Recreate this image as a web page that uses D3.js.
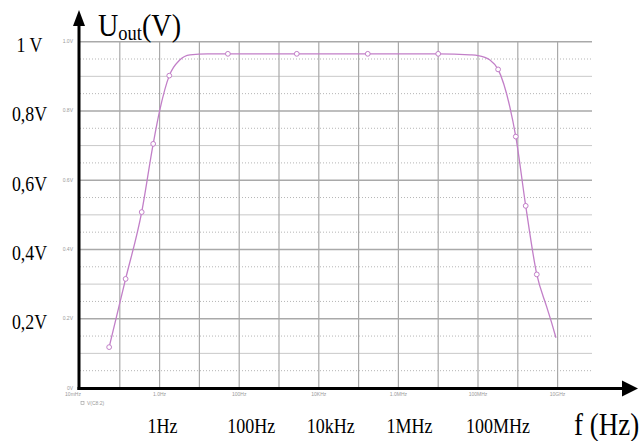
<!DOCTYPE html>
<html>
<head>
<meta charset="utf-8">
<script src="https://cdn.jsdelivr.net/npm/d3@7"></script>
<style>
  body { margin: 0; background: #fff; }
</style>
</head>
<body>
<div id="myChart"></div>
<script>
// curve: frequency (Hz) and output voltage (V)
const freqHz = [0.054, 0.14, 0.355, 0.69, 1.0, 1.75, 3.2, 5.8, 16, 52, 2.8e3, 1.7e5, 1.0e7,
                6.3e7, 1.0e8, 2.0e8, 3.2e8, 6.3e8, 8.9e8, 1.58e9, 3.0e9, 5.3e9, 7.1e9, 9.1e9];
const volts = [0.118, 0.315, 0.508, 0.705, 0.800, 0.902, 0.947, 0.962, 0.965, 0.965, 0.965, 0.965, 0.965,
               0.962, 0.960, 0.947, 0.920, 0.812, 0.726, 0.526, 0.328, 0.235, 0.188, 0.145];

// trace markers (little circles along the curve)
const markerFreqHz = [0.054, 0.14, 0.355, 0.69, 1.75, 52, 2.8e3, 1.7e5, 1.0e7, 3.2e8, 8.9e8, 1.58e9, 3.0e9];
const markerVolts = [0.118, 0.315, 0.508, 0.705, 0.902, 0.965, 0.965, 0.965, 0.965, 0.920, 0.726, 0.526, 0.328];

// small simulator tick labels
const simXTicks = [1e-2, 1, 1e2, 1e4, 1e6, 1e8, 1e10];
const simXLabels = ["10mHz", "1.0Hz", "100Hz", "10KHz", "1.0MHz", "100MHz", "10GHz"];
const simYTicks = [0, 0.2, 0.4, 0.6, 0.8, 1.0];
const simYLabels = ["0V", "0.2V", "0.4V", "0.6V", "0.8V", "1.0V"];

// big hand-written style labels
const bigYTicks = [1.0, 0.8, 0.6, 0.4, 0.2];
const bigYLabels = ["1 V", "0,8V", "0,6V", "0,4V", "0,2V"];
const bigXTicks = [1, 1e2, 1e4, 1e6, 1e8];
const bigXLabels = ["1Hz", "100Hz", "10kHz", "1MHz", "100MHz"];

const width = 641, height = 441;
const gridRight = 592;
const curveColor = "#c27fc8";

let svg = d3.select("#myChart")
  .append("svg")
    .attr("width", width)
    .attr("height", height)
    .style("display", "block");

const x = d3.scaleLog().domain([1e-2, 1e10]).range([80, 557.6]);
const y = d3.scaleLinear().domain([0, 1]).range([388, 41.7]);

// horizontal grid: every 0.05 V, solid at 0.1, darker at 0.2
const hLines = d3.range(1, 21).map(i => ({ i: i, v: i * 0.05 }));
svg.append("g")
  .selectAll("line")
  .data(hLines)
  .join("line")
    .attr("x1", x(1e-2))
    .attr("x2", gridRight)
    .attr("y1", d => y(d.v))
    .attr("y2", d => y(d.v))
    .attr("stroke", d => d.i % 4 === 0 ? "#a9a9a9" : (d.i % 2 === 0 ? "#c9c9c9" : "#b5b5b5"))
    .attr("stroke-width", d => d.i % 4 === 0 ? 1.4 : 1)
    .attr("stroke-dasharray", d => d.i % 2 === 0 ? null : "1,2");

// vertical grid, one per decade
const decades = d3.range(-1, 11).map(k => Math.pow(10, k));
svg.append("g")
  .selectAll("line")
  .data(decades)
  .join("line")
    .attr("x1", d => x(d))
    .attr("x2", d => x(d))
    .attr("y1", y(1))
    .attr("y2", y(0))
    .attr("stroke", "#a9a9a9")
    .attr("stroke-width", 1.2);

// the curve
const line = d3.line()
  .x((d, i) => x(freqHz[i]))
  .y((d, i) => y(volts[i]))
  .curve(d3.curveMonotoneX);

svg.append("path")
  .datum(volts)
  .attr("d", line)
  .attr("fill", "none")
  .attr("stroke", curveColor)
  .attr("stroke-width", 1.3);

svg.append("g")
  .selectAll("circle")
  .data(markerVolts)
  .join("circle")
    .attr("cx", (d, i) => x(markerFreqHz[i]))
    .attr("cy", d => y(d))
    .attr("r", 2.4)
    .attr("fill", "#fff")
    .attr("stroke", curveColor)
    .attr("stroke-width", 1);

// small grey simulator labels
svg.append("g")
  .selectAll("text")
  .data(simYTicks)
  .join("text")
    .attr("x", 73)
    .attr("y", d => y(d) + 1.5)
    .attr("text-anchor", "end")
    .attr("font-family", "Liberation Sans, sans-serif")
    .attr("font-size", "5px")
    .attr("fill", "#9a9a9a")
    .text((d, i) => simYLabels[i]);

svg.append("g")
  .selectAll("text")
  .data(simXTicks)
  .join("text")
    .attr("x", (d, i) => i === 0 ? x(d) - 7 : x(d))
    .attr("y", 396)
    .attr("text-anchor", "middle")
    .attr("font-family", "Liberation Sans, sans-serif")
    .attr("font-size", "5px")
    .attr("fill", "#9a9a9a")
    .text((d, i) => simXLabels[i]);

svg.append("rect")
  .attr("x", 81).attr("y", 401.5)
  .attr("width", 3).attr("height", 3)
  .attr("fill", "none")
  .attr("stroke", "#9a9a9a")
  .attr("stroke-width", 0.6);
svg.append("text")
  .attr("x", 87).attr("y", 405)
  .attr("font-family", "Liberation Sans, sans-serif")
  .attr("font-size", "5px")
  .attr("fill", "#9a9a9a")
  .text("V(C8:2)");

// thick black axes with arrow heads
svg.append("line")
  .attr("x1", 79).attr("x2", 79)
  .attr("y1", 390).attr("y2", 24)
  .attr("stroke", "#000").attr("stroke-width", 3);
svg.append("path")
  .attr("d", "M73,26 L85,26 L79,10 Z")
  .attr("fill", "#000");

svg.append("line")
  .attr("x1", 77.5).attr("x2", 624)
  .attr("y1", 388.5).attr("y2", 388.5)
  .attr("stroke", "#000").attr("stroke-width", 3);
svg.append("path")
  .attr("d", "M622,380.5 L622,396.5 L638,388.5 Z")
  .attr("fill", "#000");

// big serif labels
const serif = "Liberation Serif, Times New Roman, serif";

svg.append("g")
  .selectAll("text")
  .data(bigYTicks)
  .join("text")
    .attr("transform", d => `translate(29.5, ${y(d) + 10.5}) scale(0.85, 1)`)
    .attr("text-anchor", "middle")
    .attr("font-family", serif)
    .attr("font-size", "21px")
    .attr("fill", "#000")
    .text((d, i) => bigYLabels[i]);

svg.append("g")
  .selectAll("text")
  .data(bigXTicks)
  .join("text")
    .attr("transform", d => `translate(${x(d) - 12}, 433) scale(0.9, 1)`)
    .attr("font-family", serif)
    .attr("font-size", "20px")
    .attr("fill", "#000")
    .text((d, i) => bigXLabels[i]);

// axis titles
const yTitle = svg.append("text")
  .attr("transform", "translate(98, 36) scale(0.88, 1)")
  .attr("font-family", serif)
  .attr("font-size", "32px")
  .attr("fill", "#000");
yTitle.append("tspan").text("U");
yTitle.append("tspan").attr("font-size", "21px").attr("dy", 4).text("out");
yTitle.append("tspan").attr("dy", -4).text("(V)");

svg.append("text")
  .attr("transform", "translate(574, 435) scale(0.87, 1)")
  .attr("font-family", serif)
  .attr("font-size", "31px")
  .attr("fill", "#000")
  .text("f (Hz)");
</script>
</body>
</html>
